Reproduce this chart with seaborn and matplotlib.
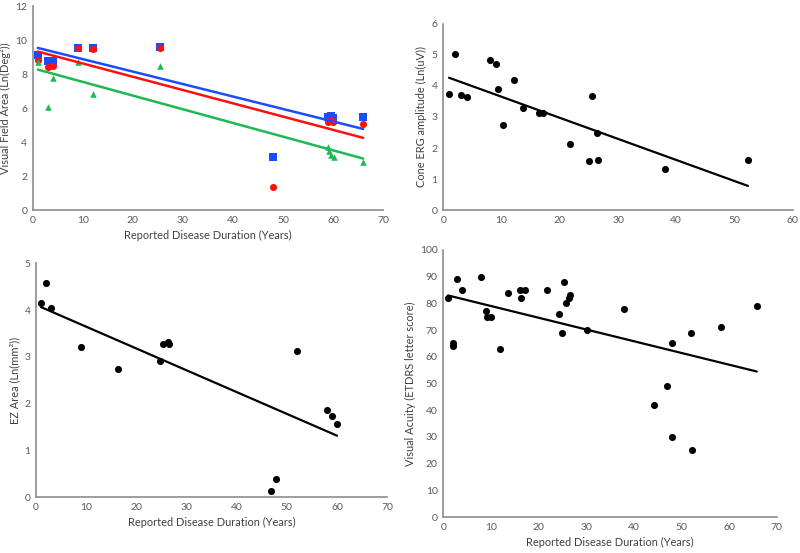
import numpy as np
import pandas as pd
import matplotlib
matplotlib.use("Agg")
import matplotlib.pyplot as plt
import seaborn as sns

# -----------------------------
# Data
# -----------------------------
vf_blue_x = [1, 3, 4, 9, 12, 25.5, 48, 59, 59.5, 60, 66]
vf_blue_y = [9.1, 8.75, 8.75, 9.55, 9.55, 9.6, 3.15, 5.45, 5.55, 5.4, 5.45]
vf_red_x = [1, 3, 4, 9, 12, 25.5, 48, 59, 59.5, 60, 66]
vf_red_y = [8.8, 8.4, 8.45, 9.55, 9.5, 9.55, 1.35, 5.2, 5.3, 5.2, 5.05]
vf_green_x = [1, 3, 4, 9, 12, 25.5, 59, 59.1, 59.6, 60.2, 66]
vf_green_y = [8.7, 6.05, 7.75, 8.7, 6.85, 8.5, 3.7, 3.45, 3.25, 3.15, 2.85]

erg_x = [1.0, 2.0, 3.1, 4.1, 8.1, 9.1, 9.4, 10.2, 12.1, 13.7, 16.5, 17.1,
         21.8, 25.0, 25.6, 26.4, 26.5, 38.0, 52.3]
erg_y = [3.74, 5.02, 3.71, 3.63, 4.84, 4.70, 3.89, 2.74, 4.19, 3.30, 3.12, 3.14,
         2.13, 1.57, 3.66, 2.49, 1.61, 1.33, 1.61]

ez_x = [1.0, 2.0, 3.0, 8.9, 16.3, 24.8, 25.4, 26.3, 26.5, 46.9, 47.8, 52.1,
        58.0, 59.0, 60.0]
ez_y = [4.16, 4.58, 4.04, 3.22, 2.73, 2.91, 3.27, 3.31, 3.27, 0.14, 0.38, 3.12,
        1.86, 1.74, 1.57]

va_x = [1.0, 2.0, 2.0, 3.0, 4.0, 8.0, 9.0, 9.2, 10.1, 12.0, 13.6, 16.1, 16.4,
        17.1, 21.7, 24.3, 24.9, 25.4, 25.8, 26.4, 26.6, 30.2, 37.9, 44.3, 47.0,
        48.0, 48.0, 52.1, 52.2, 58.3, 65.8]
va_y = [82, 65, 64, 89, 85, 90, 77, 75, 75, 63, 84, 85, 82, 85, 85, 76, 69, 88,
        80, 82, 83, 70, 78, 42, 49, 65, 30, 69, 25, 71, 79]

xlabel = "Reported Disease Duration (Years)"

# -----------------------------
# Figure setup
# -----------------------------
sns.set_style("white")
plt.rcParams["font.family"] = ["Lato", "DejaVu Sans"]

fig = plt.figure(figsize=(8, 5.53), dpi=100)
ax_vf = fig.add_axes([0.041, 0.620, 0.438, 0.369])
ax_erg = fig.add_axes([0.554, 0.620, 0.437, 0.337])
ax_ez = fig.add_axes([0.045, 0.101, 0.439, 0.423])
ax_va = fig.add_axes([0.554, 0.065, 0.417, 0.483])

tick_col = "#595959"
spine_col = "#8c8c8c"


def style(ax, xmax, xstep, ymax, ystep, ylab, xlab=None):
    ax.set_xlim(0, xmax)
    ax.set_ylim(0, ymax)
    ax.set_xticks(np.arange(0, xmax + 0.01, xstep))
    ax.set_yticks(np.arange(0, ymax + 0.01, ystep))
    ax.tick_params(length=0, labelsize=7.5, colors=tick_col, pad=4)
    for s in ["top", "right"]:
        ax.spines[s].set_visible(False)
    for s in ["left", "bottom"]:
        ax.spines[s].set_color(spine_col)
        ax.spines[s].set_linewidth(1.2)
    ax.set_ylabel(ylab, fontsize=7.9, color="#404040", labelpad=3)
    ax.set_xlabel(xlab if xlab else "", fontsize=7.9, color="#404040", labelpad=4)


# -----------------------------
# Visual field panel
# -----------------------------
series = [
    (vf_blue_x, vf_blue_y, "#1a4dff", "s", 30),
    (vf_red_x, vf_red_y, "#ff1010", "o", 26),
    (vf_green_x, vf_green_y, "#1db954", "^", 22),
]
for xs, ys, col, mk, sz in series:
    sns.regplot(x=xs, y=ys, ax=ax_vf, ci=None, marker=mk, color=col,
                scatter_kws={"s": sz, "linewidths": 0, "alpha": 1},
                line_kws={"lw": 1.8})
style(ax_vf, 70, 10, 12, 2, "Visual Field Area (Ln(Deg²))", xlabel)

# -----------------------------
# Black scatter panels
# -----------------------------
black = {"s": 26, "linewidths": 0, "alpha": 1, "color": "black"}
line = {"lw": 1.6, "color": "black"}

sns.regplot(x=erg_x, y=erg_y, ax=ax_erg, ci=None, scatter_kws=black, line_kws=line)
style(ax_erg, 60, 10, 6, 1, "Cone ERG amplitude (Ln(uV))")

sns.regplot(x=ez_x, y=ez_y, ax=ax_ez, ci=None, scatter_kws=black, line_kws=line)
style(ax_ez, 70, 10, 5, 1, "EZ Area (Ln(mm²))", xlabel)

sns.regplot(x=va_x, y=va_y, ax=ax_va, ci=None, scatter_kws=black, line_kws=line)
style(ax_va, 70, 10, 100, 10, "Visual Acuity (ETDRS letter score)", xlabel)

fig.savefig("out.png", dpi=100)
plt.close(fig)
